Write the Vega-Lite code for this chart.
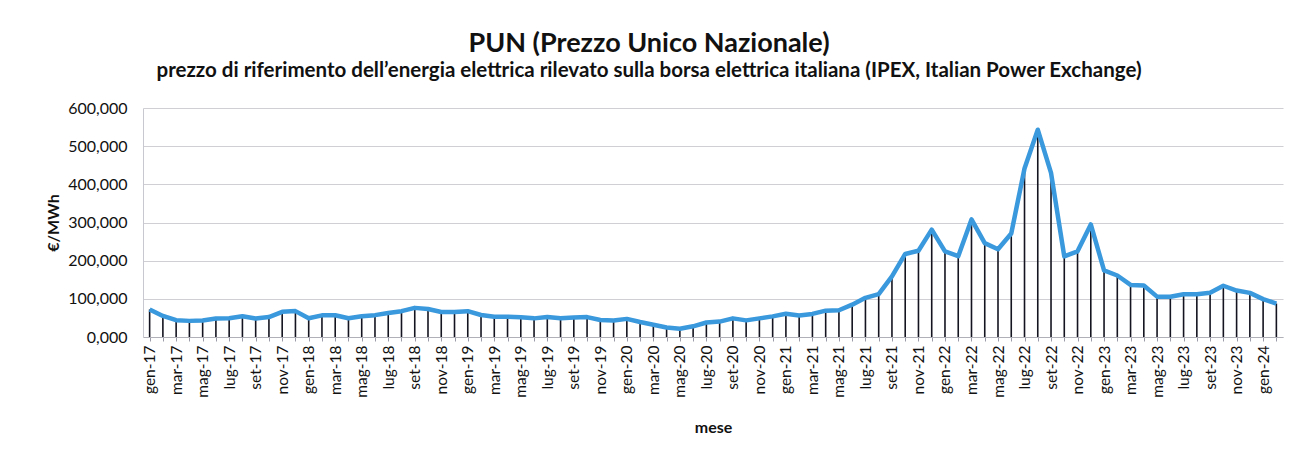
{
  "$schema": "https://vega.github.io/schema/vega-lite/v6.json",
  "width": 1140,
  "height": 229,
  "autosize": {"type": "none"},
  "padding": {"left": 143, "top": 108, "right": 22, "bottom": 121},
  "background": "white",
  "title": {
    "text": "PUN (Prezzo Unico Nazionale)",
    "subtitle": "prezzo di riferimento dell’energia elettrica rilevato sulla borsa elettrica italiana (IPEX, Italian Power Exchange)",
    "anchor": "middle",
    "frame": "group",
    "dx": -64,
    "offset": 18,
    "font": "Lato",
    "fontSize": 27,
    "fontWeight": "bold",
    "color": "#111111",
    "subtitleFont": "Lato",
    "subtitleFontSize": 20.5,
    "subtitleFontWeight": "bold",
    "subtitleColor": "#111111",
    "subtitlePadding": 3
  },
  "data": {
    "values": [
      {"mese": "gen-17", "pun": 72.24}, {"mese": "feb-17", "pun": 55.18}, {"mese": "mar-17", "pun": 43.99}, {"mese": "apr-17", "pun": 42.25},
      {"mese": "mag-17", "pun": 43.46}, {"mese": "giu-17", "pun": 48.69}, {"mese": "lug-17", "pun": 49.36}, {"mese": "ago-17", "pun": 54.54},
      {"mese": "set-17", "pun": 48.39}, {"mese": "ott-17", "pun": 52.28}, {"mese": "nov-17", "pun": 65.85}, {"mese": "dic-17", "pun": 67.84},
      {"mese": "gen-18", "pun": 49.00}, {"mese": "feb-18", "pun": 56.77}, {"mese": "mar-18", "pun": 56.91}, {"mese": "apr-18", "pun": 48.95},
      {"mese": "mag-18", "pun": 54.38}, {"mese": "giu-18", "pun": 57.27}, {"mese": "lug-18", "pun": 62.66}, {"mese": "ago-18", "pun": 67.67},
      {"mese": "set-18", "pun": 76.32}, {"mese": "ott-18", "pun": 73.19}, {"mese": "nov-18", "pun": 65.49}, {"mese": "dic-18", "pun": 65.47},
      {"mese": "gen-19", "pun": 67.65}, {"mese": "feb-19", "pun": 57.66}, {"mese": "mar-19", "pun": 52.89}, {"mese": "apr-19", "pun": 53.36},
      {"mese": "mag-19", "pun": 51.64}, {"mese": "giu-19", "pun": 48.83}, {"mese": "lug-19", "pun": 52.68}, {"mese": "ago-19", "pun": 49.09},
      {"mese": "set-19", "pun": 51.23}, {"mese": "ott-19", "pun": 52.19}, {"mese": "nov-19", "pun": 44.57}, {"mese": "dic-19", "pun": 43.18},
      {"mese": "gen-20", "pun": 47.47}, {"mese": "feb-20", "pun": 39.30}, {"mese": "mar-20", "pun": 32.02}, {"mese": "apr-20", "pun": 24.81},
      {"mese": "mag-20", "pun": 21.79}, {"mese": "giu-20", "pun": 28.01}, {"mese": "lug-20", "pun": 38.01}, {"mese": "ago-20", "pun": 40.32},
      {"mese": "set-20", "pun": 48.80}, {"mese": "ott-20", "pun": 43.57}, {"mese": "nov-20", "pun": 48.75}, {"mese": "dic-20", "pun": 54.02},
      {"mese": "gen-21", "pun": 60.71}, {"mese": "feb-21", "pun": 56.57}, {"mese": "mar-21", "pun": 60.43}, {"mese": "apr-21", "pun": 69.02},
      {"mese": "mag-21", "pun": 69.95}, {"mese": "giu-21", "pun": 84.80}, {"mese": "lug-21", "pun": 102.65}, {"mese": "ago-21", "pun": 112.40},
      {"mese": "set-21", "pun": 158.59}, {"mese": "ott-21", "pun": 217.63}, {"mese": "nov-21", "pun": 225.95}, {"mese": "dic-21", "pun": 281.24},
      {"mese": "gen-22", "pun": 224.50}, {"mese": "feb-22", "pun": 211.69}, {"mese": "mar-22", "pun": 308.07}, {"mese": "apr-22", "pun": 245.97},
      {"mese": "mag-22", "pun": 230.06}, {"mese": "giu-22", "pun": 271.31}, {"mese": "lug-22", "pun": 441.65}, {"mese": "ago-22", "pun": 543.15},
      {"mese": "set-22", "pun": 429.92}, {"mese": "ott-22", "pun": 211.18}, {"mese": "nov-22", "pun": 224.52}, {"mese": "dic-22", "pun": 294.91},
      {"mese": "gen-23", "pun": 174.49}, {"mese": "feb-23", "pun": 161.07}, {"mese": "mar-23", "pun": 136.38}, {"mese": "apr-23", "pun": 134.97},
      {"mese": "mag-23", "pun": 105.73}, {"mese": "giu-23", "pun": 105.34}, {"mese": "lug-23", "pun": 112.09}, {"mese": "ago-23", "pun": 111.89},
      {"mese": "set-23", "pun": 115.70}, {"mese": "ott-23", "pun": 134.27}, {"mese": "nov-23", "pun": 121.72}, {"mese": "dic-23", "pun": 115.53},
      {"mese": "gen-24", "pun": 99.16}, {"mese": "feb-24", "pun": 87.63}
    ]
  },
  "encoding": {
    "x": {
      "field": "mese",
      "type": "ordinal",
      "sort": null,
      "scale": {"type": "point", "padding": 0.5},
      "axis": {
        "title": "mese",
        "labelAngle": -90,
        "labelAlign": "right",
        "labelBaseline": "middle",
        "labelExpr": "test(/^(gen|mar|mag|lug|set|nov)/, datum.label) ? datum.label : ''",
        "labelFont": "Lato",
        "labelFontSize": 15.5,
        "labelColor": "#111111",
        "labelPadding": 4,
        "labelOverlap": false,
        "tickSize": 4,
        "tickColor": "#9a9aa8",
        "domainColor": "#b0b0b8",
        "grid": false,
        "titleFont": "Lato",
        "titleFontSize": 16,
        "titleFontWeight": "bold",
        "titleColor": "#111111",
        "titlePadding": 22
      }
    },
    "y": {
      "field": "pun",
      "type": "quantitative",
      "scale": {"domain": [0, 600], "nice": false},
      "axis": {
        "title": "€/MWh",
        "values": [0, 100, 200, 300, 400, 500, 600],
        "labelExpr": "replace(format(datum.value, '.3f'), '.', ',')",
        "labelFont": "Lato",
        "labelFontSize": 16,
        "labelColor": "#111111",
        "labelPadding": 16,
        "ticks": false,
        "domain": true,
        "domainColor": "#c8c8d0",
        "gridColor": "#cfcfd4",
        "gridWidth": 1,
        "titleFont": "Lato",
        "titleFontSize": 16,
        "titleFontWeight": "bold",
        "titleColor": "#111111",
        "titlePadding": 6
      }
    }
  },
  "layer": [
    {
      "mark": {"type": "rule", "color": "#141420", "strokeWidth": 1.6},
      "encoding": {"y2": {"datum": 0}}
    },
    {
      "mark": {"type": "line", "color": "#3a98dc", "strokeWidth": 4.5, "strokeJoin": "round"}
    }
  ],
  "config": {"view": {"stroke": null}}
}
